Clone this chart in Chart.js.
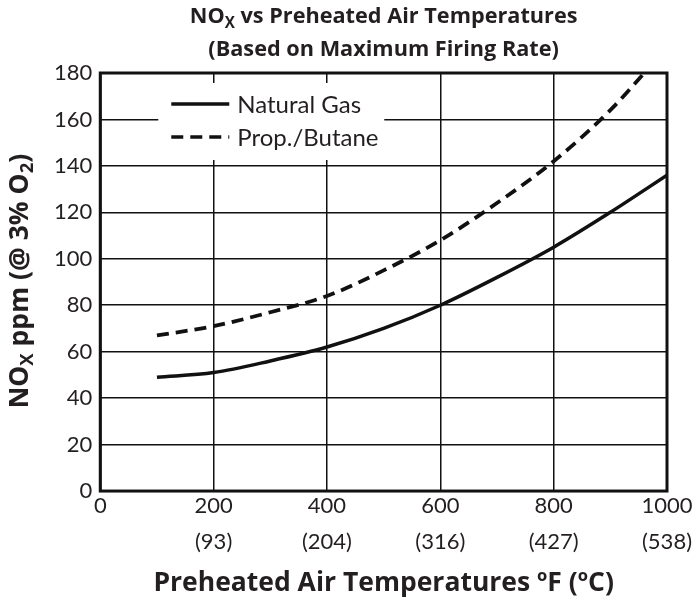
<!DOCTYPE html>
<html>
<head>
<meta charset="utf-8">
<script src="https://cdn.jsdelivr.net/npm/chart.js@4"></script>
<style>
  body { margin: 0; background: #fff; }
  #wrap { width: 700px; height: 600px; }
</style>
</head>
<body>
<div id="wrap"><canvas id="noxChart"></canvas></div>
<script>
const FONT = "Lato, 'Open Sans', sans-serif";
const BOLD = "'Open Sans', Lato, sans-serif";

// temperatures in deg F
const temps = [100, 200, 300, 400, 500, 600, 700, 800, 900, 1000];
const naturalGas = [49, 51, 56, 62, 70, 80, 92, 105, 120, 136];
const propTemps = [100, 200, 300, 400, 500, 600, 700, 800, 900, 960];
const propButane = [67, 71, 77, 84, 95, 108, 124, 142, 164, 180];
const celsius = { 200: "(93)", 400: "(204)", 600: "(316)", 800: "(427)", 1000: "(538)" };

// draws a centred line of text with subscript parts: [["NO"], ["X", true], [" vs ..."]]
function drawRich(ctx, parts, x, y, size) {
  const fontFor = p => "bold " + (p[1] ? size * 0.7 : size) + "px " + BOLD;
  const widths = parts.map(p => {
    ctx.font = fontFor(p);
    return ctx.measureText(p[0]).width;
  });
  let cx = x - widths.reduce((a, b) => a + b, 0) / 2;
  parts.forEach((p, i) => {
    ctx.font = fontFor(p);
    ctx.fillText(p[0], cx, p[1] ? y + size * 0.3 : y);
    cx += widths[i];
  });
}

const decorPlugin = {
  id: "decor",
  beforeDatasetsDraw(chart) {
    // white legend box over the grid
    const { ctx, chartArea: a } = chart;
    ctx.save();
    ctx.fillStyle = "#fff";
    ctx.fillRect(a.left + 58, a.top + 10, 226, 77);
    ctx.restore();
  },
  afterDraw(chart) {
    const { ctx, chartArea: a } = chart;
    ctx.save();
    // frame
    ctx.strokeStyle = "#111";
    ctx.lineWidth = 3;
    ctx.strokeRect(a.left, a.top, a.right - a.left, a.bottom - a.top);

    // legend
    const lx = a.left + 71, ly = a.top + 31;
    chart.data.datasets.forEach((ds, i) => {
      const y = ly + i * 33;
      ctx.lineWidth = 3.5;
      ctx.setLineDash(ds.borderDash || []);
      ctx.beginPath();
      ctx.moveTo(lx, y);
      ctx.lineTo(lx + 58, y);
      ctx.stroke();
      ctx.setLineDash([]);
      ctx.fillStyle = "#231f20";
      ctx.font = "24px " + FONT;
      ctx.textBaseline = "middle";
      ctx.fillText(ds.label, lx + 66, y + 1);
    });

    ctx.fillStyle = "#231f20";
    ctx.textBaseline = "middle";
    ctx.textAlign = "left";
    const cx = (a.left + a.right) / 2;
    drawRich(ctx, [["NO"], ["X", true], [" vs Preheated Air Temperatures"]], cx, 17, 21.7);
    drawRich(ctx, [["(Based on Maximum Firing Rate)"]], cx, 50, 21.7);

    // y axis title
    ctx.translate(20, (a.top + a.bottom) / 2 - 1);
    ctx.rotate(-Math.PI / 2);
    drawRich(ctx, [["NO"], ["X", true], [" ppm (@ 3% O"], ["2", true], [")"]], 0, 0, 26.5);
    ctx.restore();
  }
};

new Chart(document.getElementById("noxChart"), {
  type: "line",
  data: {
    datasets: [
      {
        label: "Natural Gas",
        data: temps.map((t, i) => ({ x: t, y: naturalGas[i] })),
        borderColor: "#111",
        borderWidth: 3.5,
        pointRadius: 0,
        cubicInterpolationMode: "monotone"
      },
      {
        label: "Prop./Butane",
        data: propTemps.map((t, i) => ({ x: t, y: propButane[i] })),
        borderColor: "#111",
        borderWidth: 3.8,
        borderDash: [12, 7],
        pointRadius: 0,
        cubicInterpolationMode: "monotone"
      }
    ]
  },
  plugins: [decorPlugin],
  options: {
    responsive: true,
    maintainAspectRatio: false,
    animation: false,
    layout: { padding: { left: 46, top: 73, right: 33, bottom: 1 } },
    plugins: { legend: { display: false }, title: { display: false }, tooltip: { enabled: false } },
    scales: {
      x: {
        type: "linear",
        min: 0,
        max: 1000,
        grid: { color: "#111", lineWidth: 1.5, drawTicks: false },
        border: { display: false },
        ticks: {
          stepSize: 200,
          color: "#231f20",
          padding: -3,
          font: { family: FONT, size: 22, lineHeight: 1.64 },
          maxRotation: 0,
          callback: v => celsius[v] ? [String(v), celsius[v]] : String(v)
        },
        title: {
          display: true,
          text: "Preheated Air Temperatures ºF (ºC)",
          color: "#231f20",
          font: { family: BOLD, size: 26.5, weight: "bold" },
          padding: { top: 10, bottom: 0 }
        }
      },
      y: {
        min: 0,
        max: 180,
        grid: { color: "#111", lineWidth: 1.5, drawTicks: false },
        border: { display: false },
        ticks: {
          stepSize: 20,
          color: "#231f20",
          padding: 8,
          font: { family: FONT, size: 22 }
        }
      }
    }
  }
});
</script>
</body>
</html>
